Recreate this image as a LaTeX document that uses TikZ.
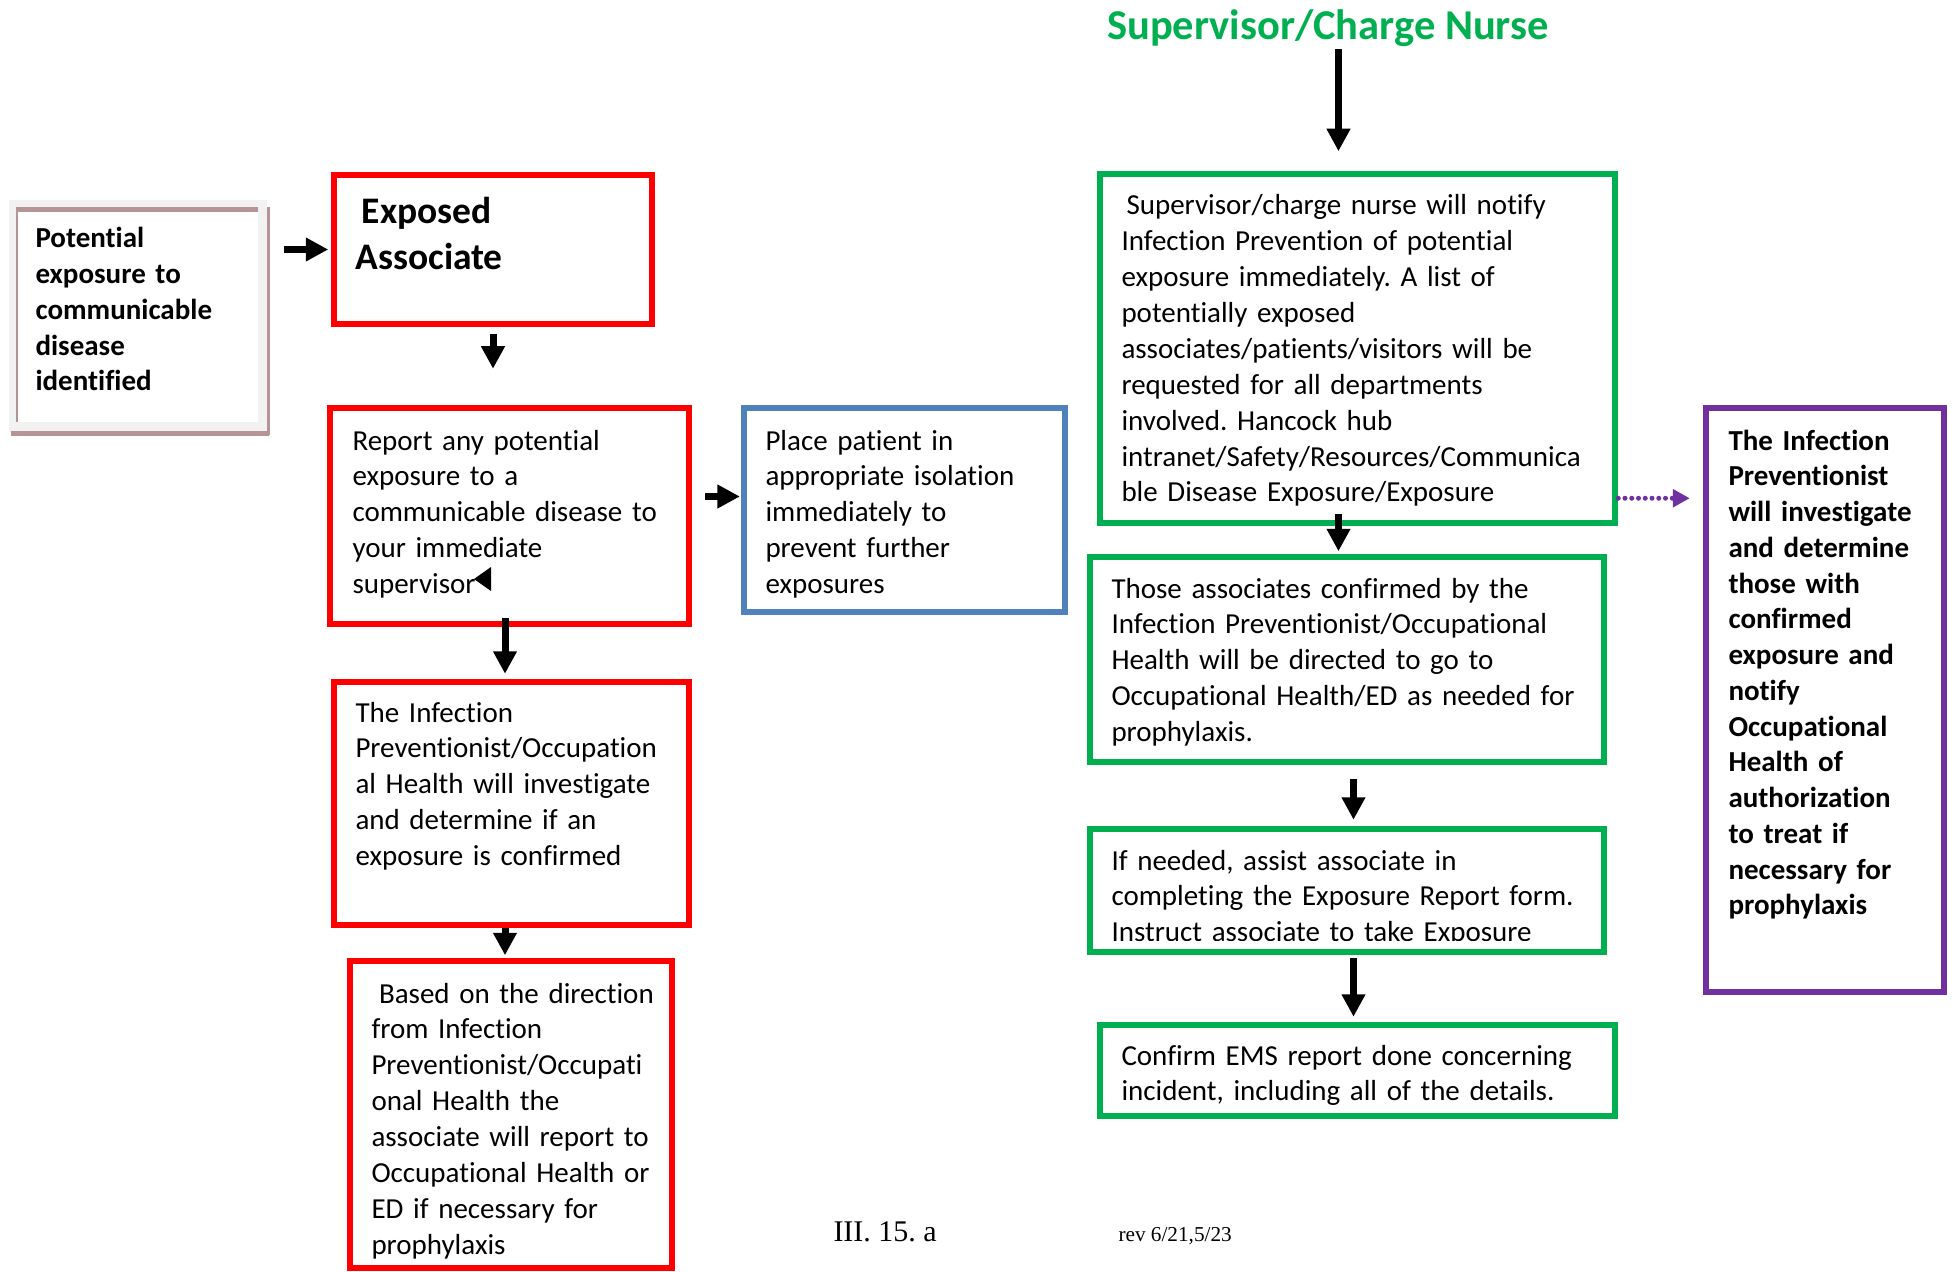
\documentclass[tikz,border=0pt]{standalone}
\usepackage{fontspec}
\setmainfont{Carlito}[Ligatures={NoCommon}]
\newfontfamily\timesfont{Liberation Serif}
\usetikzlibrary{arrows.meta, fit}
\definecolor{redline}{RGB}{255,0,0}
\definecolor{greenline}{RGB}{0,176,80}
\definecolor{blueline}{RGB}{79,129,189}
\definecolor{purpleline}{RGB}{112,48,160}
\definecolor{shadowbrown}{RGB}{180,148,148}
\definecolor{framegray}{RGB}{242,242,242}
\frenchspacing
\tikzset{
	boxframe/.style={draw, line width=2.6pt, inner sep=0pt},
	redbox/.style={boxframe, draw=redline},
	greenbox/.style={boxframe, draw=greenline},
	bluebox/.style={boxframe, draw=blueline, line width=2.3pt},
	purplebox/.style={boxframe, draw=purpleline},
	txt/.style={anchor=base west, inner sep=0pt, text width=260pt, align=left,
		font=\fontsize{11.6}{14.35}\selectfont},
	boldtxt/.style={txt, font=\bfseries\fontsize{11.6}{14.3}\selectfont},
	arrow/.style={line width=2.8pt, -{Triangle[length=9pt,width=9pt]}},
	dotarrow/.style={draw=purpleline, line width=2pt, line cap=round,
		dash pattern=on 0pt off 2.7pt,
		-{Triangle[length=6.8pt,width=7pt,fill=purpleline]}}
}

\begin{document}
\begin{tikzpicture}[x=0.4pt, y=-0.4pt]
	\useasboundingbox (0,0) rectangle (1956,1272);
	
	% left column
	\node[fit={(9,200) (267,432)}, inner sep=0pt, fill=framegray] (potential) {};
	\fill[white] (18,212) rectangle (258,422);
	\draw[shadowbrown, line width=2pt] (16,210) -- (258,210);
	\draw[shadowbrown, line width=0.8pt] (17,210) -- (17,422);
	\draw[shadowbrown, line width=2pt] (11,433) -- (269,433);
	\draw[shadowbrown, line width=1.2pt] (268,207) -- (268,435);
	\node[boldtxt] (potentialtext) at (35,248) {Potential\\ exposure to\\ communicable\\ disease\\ identified};
	
	\node[redbox, fit={(334,175) (652,324)}] (exposed) {};
	\node[txt, font=\bfseries\fontsize{15}{18.4}\selectfont] (exposedtext) at (355,224) {\hspace{2.5pt}Exposed\\ Associate};
	
	\node[redbox, fit={(330,408) (689,624)}] (report) {};
	\node[txt] (reporttext) at (352,450) {Report any potential\\ exposure to a\\ communicable disease to\\ your immediate\\ supervisor};
	\fill (474,579) -- (491,567) -- (491,591) -- cycle;
	
	\node[bluebox, fit={(744,408) (1065,612)}] (place) {};
	\node[txt] (placetext) at (765,450) {Place patient in\\ appropriate isolation\\ immediately to\\ prevent further\\ exposures};
	
	\node[redbox, fit={(334,682) (689,925)}] (infection) {};
	\node[txt] (infectiontext) at (355,722) {The Infection\\ Preventionist/Occupation\\ al Health will investigate\\ and determine if an\\ exposure is confirmed};
	
	\node[redbox, fit={(350,961) (672,1268)}] (based) {};
	\node[txt] (basedtext) at (371,1003) {\hspace{3pt}Based on the direction\\ from Infection\\ Preventionist/Occupati\\ onal Health the\\ associate will report to\\ Occupational Health or\\ ED if necessary for\\ prophylaxis};
	
	% right column
	\node[anchor=base, inner sep=0pt, text=greenline, font=\bfseries\fontsize{17}{20}\selectfont] (title) at (1328,40) {Supervisor/Charge Nurse};
	
	\node[greenbox, fit={(1100,174) (1615,523)}] (green1) {};
	\node[txt] (green1text) at (1121,215) {\hspace{2pt}Supervisor/charge nurse will notify\\ Infection Prevention of potential\\ exposure immediately. A list of\\ potentially exposed\\ associates/patients/visitors will be\\ requested for all departments\\ involved. Hancock hub\\ intranet/Safety/Resources/Communica\\ ble Disease Exposure/Exposure};
	
	\node[greenbox, fit={(1090,557) (1604,762)}] (green2) {};
	\node[txt] (green2text) at (1111,598) {Those associates confirmed by the\\ Infection Preventionist/Occupational\\ Health will be directed to go to\\ Occupational Health/ED as needed for\\ prophylaxis.};
	
	\node[greenbox, fit={(1090,829) (1604,952)}] (green3) {};
	\begin{scope}
		\clip (1093,832) rectangle (1601,940);
		\node[txt] (green3text) at (1111,870) {If needed, assist associate in\\ completing the Exposure Report form.\\ Instruct associate to take Exposure};
	\end{scope}
	
	\node[greenbox, fit={(1100,1025) (1615,1116)}] (green4) {};
	\node[txt] (green4text) at (1121,1065) {Confirm EMS report done concerning\\ incident, including all of the details.};
	
	\node[purplebox, fit={(1706,408) (1944,992)}] (purple) {};
	\node[boldtxt] (purpletext) at (1728,450) {The Infection\\ Preventionist\\ will investigate\\ and determine\\ those with\\ confirmed\\ exposure and\\ notify\\ Occupational\\ Health of\\ authorization\\ to treat if\\ necessary for\\ prophylaxis};
	
	% footer
	\node[anchor=base west, inner sep=0pt, font=\timesfont\fontsize{12}{14}\selectfont] (pagenum) at (833,1241) {III. 15. a};
	\node[anchor=base west, inner sep=0pt, font=\timesfont\fontsize{8.5}{10}\selectfont] (revision) at (1118,1241) {rev 6/21,5/23};
	
	% arrows
	\draw[arrow, shorten <=6.4pt, shorten >=1pt] (potential.east |- exposed.west) -- (exposed.west);
	\draw[arrow, shorten <=2.6pt, shorten >=14.4pt] (exposed.south) -- (exposed.south |- report.north);
	\draw[arrow, shorten <=5pt, shorten >=0.5pt] ([yshift=7.8pt]report.east) -- ([yshift=7.8pt]report.east -| place.west);
	\draw[arrow, shorten <=-3.6pt, shorten >=2pt] ([xshift=-1.8pt]report.south) -- ([xshift=-1.8pt]report.south |- infection.north);
	\draw[arrow, shorten >=1pt] ([xshift=-2.6pt]infection.south) -- ([xshift=-2.6pt]infection.south |- based.north);
	\draw[arrow, shorten <=0.5pt, shorten >=7.8pt] ([xshift=4.2pt]title.south) -- ([xshift=4.2pt]title.south |- green1.north);
	\draw[arrow, shorten <=-4.8pt, shorten >=1pt] ([xshift=-7.6pt]green1.south) -- ([xshift=-7.6pt]green1.south |- green2.north);
	\draw[arrow, shorten <=5.6pt, shorten >=2.4pt] ([xshift=2.6pt]green2.south) -- ([xshift=2.6pt]green2.south |- green3.north);
	\draw[arrow, shorten <=1pt, shorten >=2pt] ([xshift=2.6pt]green3.south) -- ([xshift=2.6pt]green3.south |- green4.north);
	\draw[dotarrow, shorten <=0pt, shorten >=5.2pt] ([yshift=11.2pt]green1.south east) -- ([yshift=11.2pt]green1.south east -| purple.west);
\end{tikzpicture}
\end{document}
